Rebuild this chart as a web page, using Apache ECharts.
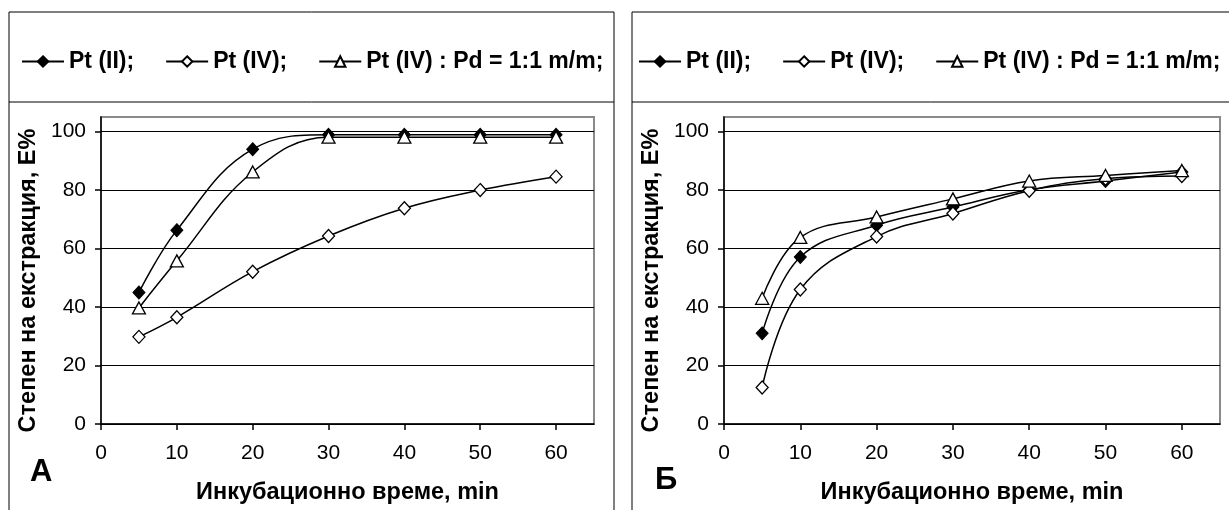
<!DOCTYPE html>
<html>
<head>
<meta charset="utf-8">
<script src="https://cdn.jsdelivr.net/npm/echarts@6/dist/echarts.min.js"></script>
<style>
html,body{margin:0;padding:0;background:#fff;}
#chart{width:1229px;height:510px;}
</style>
</head>
<body>
<div id="chart"></div>
<script>
// ---- data ----
const xValues = [5, 10, 20, 30, 40, 50, 60];
const seriesNames = ['Pt (II)', 'Pt (IV)', 'Pt (IV) : Pd = 1:1 m/m'];
// Panel A
const ptII_A = [45, 66.3, 94, 98.9, 98.9, 98.9, 98.9];
const ptIV_A = [29.8, 36.5, 52.1, 64.3, 73.8, 80, 84.6];
const ptPd_A = [39.7, 55.8, 86.2, 98.1, 98.1, 98.1, 98.1];
// Panel Б
const ptII_B = [31, 57.1, 68, 74.2, 80.1, 83.1, 86.2];
const ptIV_B = [12.5, 46, 64.1, 72, 79.8, 83.9, 84.8];
const ptPd_B = [43, 63.8, 70.8, 77, 83.1, 85, 86.7];
const xTicks = [0, 10, 20, 30, 40, 50, 60];
const yTicks = [0, 20, 40, 60, 80, 100];
const panelLetters = ['А', 'Б'];
const xAxisTitle = 'Инкубационно време, min';
const yAxisTitle = 'Степен на екстракция, Е%';

const FONT = '"Liberation Sans", Arial, sans-serif';
const pairs = (ys) => xValues.map((x, i) => [x, ys[i]]);

const styles = [
  { symbol: 'diamond', symbolSize: [12, 13], itemStyle: { color: '#000', borderColor: '#000', borderWidth: 1 } },
  { symbol: 'diamond', symbolSize: [12, 13], itemStyle: { color: '#fff', borderColor: '#000', borderWidth: 1.3 } },
  { symbol: 'triangle', symbolSize: [13, 12], itemStyle: { color: '#fff', borderColor: '#000', borderWidth: 1.3 } }
];

function mkSeries(data, idx, gridIdx) {
  return Object.assign({
    type: 'line',
    name: seriesNames[idx],
    xAxisIndex: gridIdx,
    yAxisIndex: gridIdx,
    data: pairs(data),
    smooth: 0.4,
    showSymbol: true,
    lineStyle: { color: '#000', width: 1.5 },
    emphasis: { disabled: true },
    animation: false,
    z: 3 + idx
  }, styles[idx]);
}

function mkXAxis(gridIdx) {
  return {
    type: 'value', gridIndex: gridIdx, min: 0, max: 65, interval: 10,
    name: xAxisTitle, nameLocation: 'middle', nameGap: 57,
    nameTextStyle: { fontFamily: FONT, fontSize: 23.5, fontWeight: 'bold', color: '#000' },
    axisLine: { lineStyle: { color: '#000', width: 1.5 } },
    axisTick: { show: true, length: 6, lineStyle: { color: '#000', width: 1.5 }, customValues: xTicks },
    axisLabel: { fontFamily: FONT, fontSize: 21, color: '#000', margin: 19, customValues: xTicks },
    splitLine: { show: false }
  };
}
function mkYAxis(gridIdx) {
  return {
    type: 'value', gridIndex: gridIdx, min: 0, max: 105, interval: 20,
    name: yAxisTitle, nameLocation: 'middle', nameGap: 60, nameRotate: 90,
    nameTextStyle: { fontFamily: FONT, fontSize: 23.5, fontWeight: 'bold', color: '#000', padding: [0, 20, 0, 0] },
    axisLine: { show: true, lineStyle: { color: '#000', width: 1.5 } },
    axisTick: { show: true, length: 6, lineStyle: { color: '#000', width: 1.5 }, customValues: yTicks },
    axisLabel: { fontFamily: FONT, fontSize: 21, color: '#000', margin: 15, customValues: yTicks },
    splitLine: { show: true, lineStyle: { color: ['#000', '#000', '#000', '#000', '#000', '#000', '#8a8a8a'], width: 1 } }
  };
}

const legendBase = {
  orient: 'horizontal',
  itemWidth: 42, itemHeight: 13, itemGap: 31,
  formatter: (n) => n + ';',
  textStyle: { fontFamily: FONT, fontSize: 23, fontWeight: 'bold', color: '#000', padding: [0, 0, 0, 0] },
  selectedMode: false
};

const chart = echarts.init(document.getElementById('chart'), null, { renderer: 'canvas' });
chart.setOption({
  backgroundColor: '#fff',
  animation: false,
  title: [
    { text: panelLetters[0], left: 25, top: 452, textStyle: { fontFamily: FONT, fontSize: 31, fontWeight: 'bold', color: '#000' } },
    { text: panelLetters[1], left: 650, top: 460, textStyle: { fontFamily: FONT, fontSize: 31, fontWeight: 'bold', color: '#000' } }
  ],
  legend: [
    Object.assign({}, legendBase, { left: 16, top: 45, data: seriesNames }),
    Object.assign({}, legendBase, { left: 633, top: 45, data: seriesNames })
  ],
  grid: [
    { left: 101, top: 117, width: 493, height: 309, show: true, borderColor: '#8a8a8a', borderWidth: 2, backgroundColor: 'transparent' },
    { left: 724, top: 117, width: 496, height: 309, show: true, borderColor: '#8a8a8a', borderWidth: 2, backgroundColor: 'transparent' }
  ],
  xAxis: [mkXAxis(0), mkXAxis(1)],
  yAxis: [mkYAxis(0), mkYAxis(1)],
  series: [
    mkSeries(ptII_A, 0, 0), mkSeries(ptIV_A, 1, 0), mkSeries(ptPd_A, 2, 0),
    mkSeries(ptII_B, 0, 1), mkSeries(ptIV_B, 1, 1), mkSeries(ptPd_B, 2, 1)
  ],
  graphic: [
    { type: 'rect', shape: { x: 9, y: 12, width: 605, height: 520 }, style: { fill: null, stroke: '#000', lineWidth: 1 }, silent: true },
    { type: 'line', shape: { x1: 9, y1: 102, x2: 614, y2: 102 }, style: { stroke: '#000', lineWidth: 1 }, silent: true },
    { type: 'rect', shape: { x: 632, y: 12, width: 620, height: 520 }, style: { fill: null, stroke: '#000', lineWidth: 1 }, silent: true },
    { type: 'line', shape: { x1: 632, y1: 102, x2: 1229, y2: 102 }, style: { stroke: '#000', lineWidth: 1 }, silent: true }
  ]
});
</script>
</body>
</html>
